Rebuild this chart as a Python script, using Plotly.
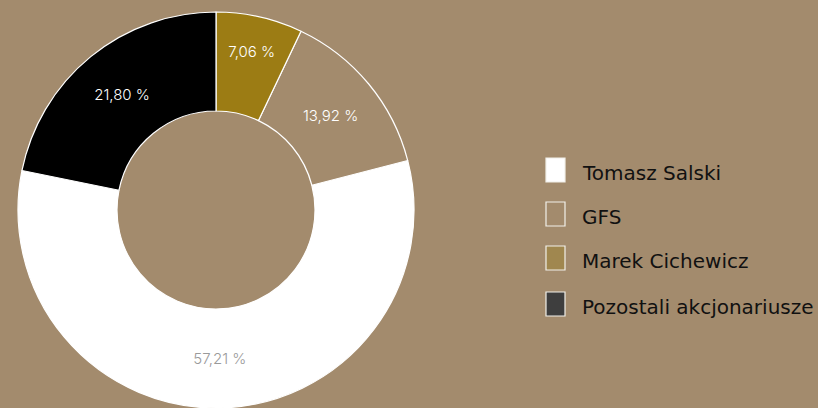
import plotly.graph_objects as go

# shareholders, in drawing order (counterclockwise from the GFS/Salski border)
names = ["Tomasz Salski", "GFS", "Marek Cichewicz", "Pozostali akcjonariusze"]
shares = [57.21, 13.92, 7.06, 21.80]
slice_colors = ["#ffffff", "#a38b6d", "#9c7c14", "#000000"]
label_colors = ["#9a9a9a", "#ffffff", "#ffffff", "#ffffff"]
legend_colors = ["#ffffff", "#a38b6d", "#a0874f", "#3e3e3e"]

BG = "#a38b6d"
W, H = 818, 408

labels = [("%.2f %%" % v).replace(".", ",") for v in shares]

fig = go.Figure()
fig.add_trace(go.Pie(
    labels=names,
    values=shares,
    text=labels,
    textinfo="text",
    hoverinfo="label+text",
    sort=False,
    direction="counterclockwise",
    rotation=sum(shares[1:3]) / sum(shares) * 360,
    hole=0.5,
    marker=dict(colors=slice_colors, line=dict(color="#ffffff", width=1.2)),
    insidetextfont=dict(color=label_colors, size=15, weight=300,
                        family="Inter, Lato, sans-serif"),
    textposition="inside",
    insidetextorientation="horizontal",
    domain=dict(x=[18 / W, 414 / W], y=[0, 396 / H]),
    showlegend=False,
))

# hand-drawn legend (larger boxes than plotly's own)
box_top = [158, 202, 246, 292]
for i, name in enumerate(names):
    y0 = box_top[i]
    fig.add_shape(type="rect", xref="paper", yref="paper",
                  x0=546 / W, x1=565 / W, y0=1 - (y0 + 24) / H, y1=1 - y0 / H,
                  fillcolor=legend_colors[i], line=dict(color="#f2f0ea", width=1.2))
    fig.add_annotation(xref="paper", yref="paper", x=580 / W, y=1 - (y0 + 15) / H,
                       xanchor="left", yanchor="middle", showarrow=False,
                       text=name, font=dict(size=20, color="#111111",
                                            family="DejaVu Sans, sans-serif"))

fig.update_layout(
    width=W, height=H,
    margin=dict(l=0, r=0, t=0, b=0),
    paper_bgcolor=BG, plot_bgcolor=BG,
)

fig.write_html("out.html", config={"displayModeBar": False},
               post_script="document.body.style.margin='0';")
